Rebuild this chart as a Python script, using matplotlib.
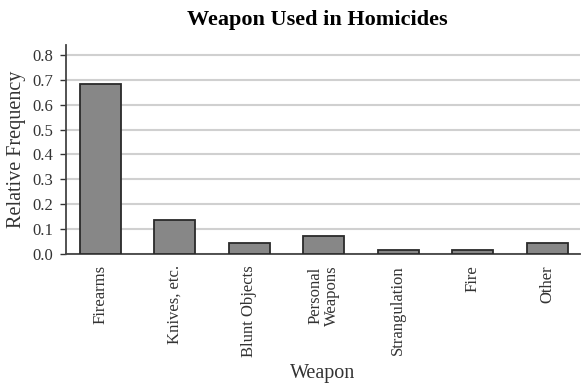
import matplotlib
matplotlib.use("Agg")
import matplotlib.pyplot as plt

plt.rcParams['font.family'] = ['Liberation Serif', 'DejaVu Serif']

weapons = ["Firearms", "Knives, etc.", "Blunt Objects", "Personal\nWeapons",
           "Strangulation", "Fire", "Other"]
rel_freq = [0.682, 0.135, 0.045, 0.073, 0.017, 0.015, 0.045]

fig = plt.figure(figsize=(5.84, 3.83), dpi=100)
ax = fig.add_axes([66/584, 1 - 254/383, (580-66)/584, (254-45)/383])

ax.bar(range(len(weapons)), rel_freq, width=0.55, color="#878787",
       edgecolor="#2a2a2a", linewidth=1.3, zorder=3)

ax.set_xlim(-0.46, 6.44)
ax.set_ylim(0, 0.84)
ax.set_yticks([0.0, 0.1, 0.2, 0.3, 0.4, 0.5, 0.6, 0.7, 0.8])
ax.set_yticklabels(["0.0", "0.1", "0.2", "0.3", "0.4", "0.5", "0.6", "0.7", "0.8"])
ax.yaxis.grid(True, color="#d0d0d0", linewidth=1.5, zorder=0)
ax.set_axisbelow(True)

ax.set_xticks(range(len(weapons)))
ax.set_xticklabels(weapons, rotation=90, va="top", ha="center",
                   fontsize=12, color="#333333", linespacing=1.05)
ax.tick_params(axis="x", length=0, pad=8)
ax.tick_params(axis="y", length=4, width=1, colors="#333333", labelsize=12, pad=5)

for s in ["top", "right"]:
    ax.spines[s].set_visible(False)
ax.spines["left"].set_color("#444444")
ax.spines["bottom"].set_color("#444444")
ax.spines["left"].set_linewidth(1.3)
ax.spines["bottom"].set_linewidth(1.3)

ax.set_ylabel("Relative Frequency", fontsize=14.5, color="#333333")
ax.yaxis.set_label_coords(-0.078, 0.5)
ax.set_xlabel("Weapon", fontsize=14.5, color="#333333")
ax.xaxis.set_label_coords(0.5, -0.525)
fig.suptitle("Weapon Used in Homicides", fontsize=16, fontweight="bold",
             x=317.5/584, y=1 - 20/383, va="center")

fig.savefig("out.png", dpi=100)
